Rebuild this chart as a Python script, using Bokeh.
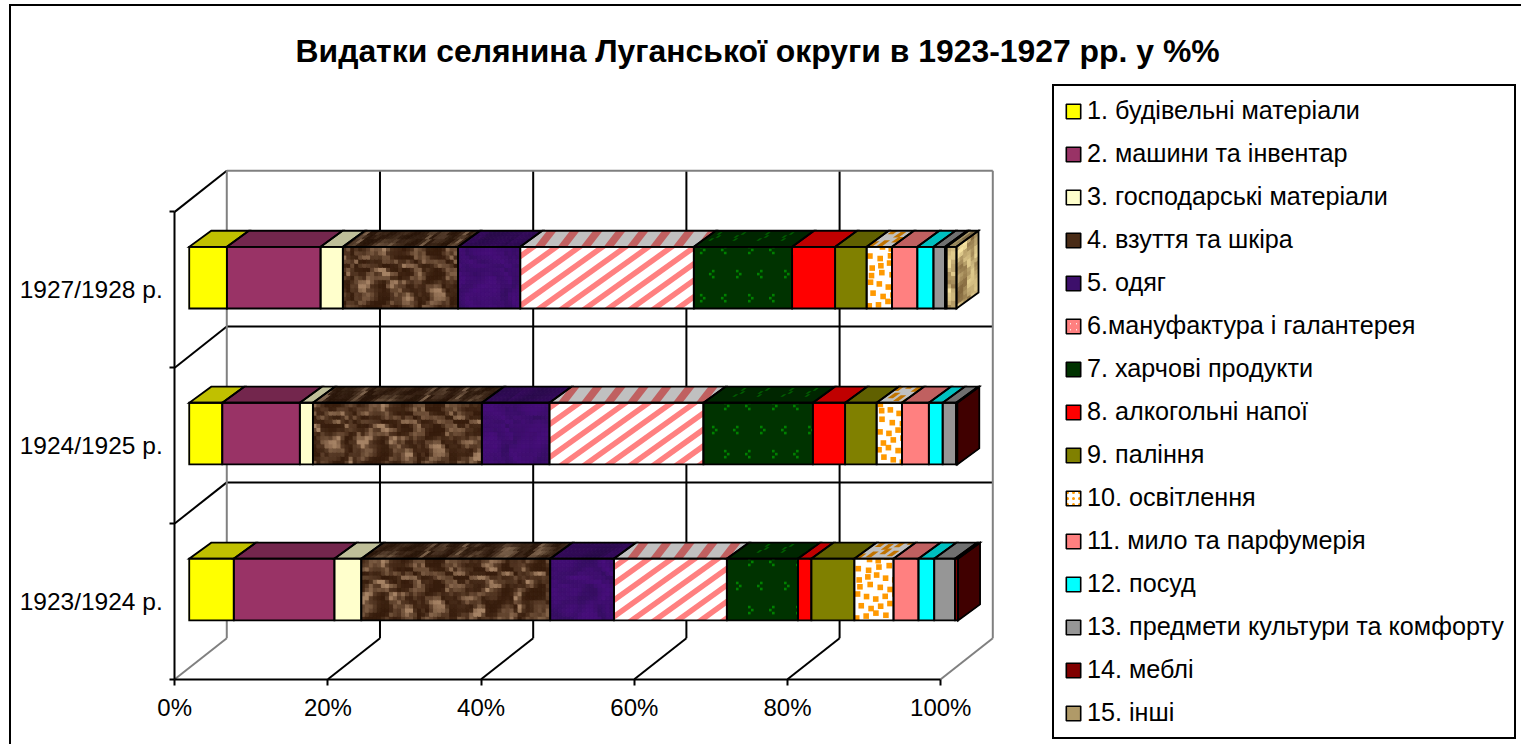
from bokeh.plotting import figure
from bokeh.embed import file_html
from bokeh.resources import INLINE
from bokeh.models import (Range1d, LinearAxis, FixedTicker, Legend, LegendItem,
                          ColumnDataSource, Title)
import math

# ---------- data ----------
title = "Видатки селянина Луганської округи в 1923-1927 рр. у %%"
categories = ["1923/1924 р.", "1924/1925 р.", "1927/1928 р."]
series_names = ["1. будівельні матеріали", "2. машини та інвентар", "3. господарські матеріали",
                "4. взуття та шкіра", "5. одяг", "6.мануфактура і галантерея", "7. харчові продукти",
                "8. алкогольні напої", "9. паління", "10. освітлення", "11. мило та парфумерія",
                "12. посуд", "13. предмети культури та комфорту", "14. меблі", "15. інші"]
values_1923 = [5.8, 13.1, 3.5, 24.6, 8.3, 14.7, 9.25, 1.75, 5.6, 5.1, 3.25, 2.05, 2.7, 0.4, 0.0]
values_1924 = [4.3, 10.1, 1.7, 22.0, 8.8, 20.05, 14.25, 4.2, 4.1, 3.3, 3.5, 1.8, 1.75, 0.15, 0.0]
values_1927 = [4.9, 12.2, 2.9, 15.0, 8.1, 22.6, 12.8, 5.6, 4.1, 3.3, 3.3, 2.1, 1.5, 0.2, 1.3]
x_ticks = [0, 20, 40, 60, 80, 100]
x_tick_labels = ["0%", "20%", "40%", "60%", "80%", "100%"]
rows = [values_1923, values_1924, values_1927]

# series appearance: (kind, front colour, top colour)
looks = [("s", "#FFFF00", "#C0C000"), ("s", "#993366", "#73264D"), ("s", "#FFFFCC", "#BFBF99"),
         ("brown", "", ""), ("purple", "", ""), ("stripe", "", ""), ("green", "", ""),
         ("s", "#FF0000", "#C00000"), ("s", "#808000", "#606000"), ("orange", "", ""),
         ("s", "#FF8080", "#C06060"), ("s", "#00FFFF", "#00C0C0"), ("s", "#969696", "#707070"),
         ("s", "#800000", "#600000"), ("tan", "", "")]
legend_colors = ["#FFFF00", "#993366", "#FFFFCC", "#4a2c17", "#3d0f6b", "#FFFFFF", "#003300", "#FF0000",
                 "#808000", "#FFFFFF", "#FF8080", "#00FFFF", "#969696", "#800000", "#b09a68"]
legend_hatch = {5: ("right_diagonal_line", "#FF8080"), 9: ("dot", "#FF9900")}

# ---------- geometry (pixels per data unit) ----------
PX, PY = 7.65, 155.33
FONT = "Liberation Sans"
ORG_X, ORG_Y = 11, 6          # page position of the figure's content (inside its left/top rule)
TOP = 80
ZX, ZY = 174, 677             # where the axes' zero falls, in the figure's layout
p = figure(width=1521 - ORG_X, height=744 - ORG_Y, output_backend="svg", toolbar_location=None,
           x_range=Range1d(-(ZX - ORG_X) / PX, (1521 - ZX) / PX), y_range=Range1d(-(744 - ZY) / PY, (ZY - TOP) / PY),
           x_axis_type=None, y_axis_type=None,
           min_border_left=0, min_border_right=0, min_border_top=TOP - ORG_Y, min_border_bottom=0,
           outline_line_color=None, background_fill_color="white", border_fill_color="white")
p.grid.visible = False
p.styles = {"position": "absolute", "left": "9px", "top": "4px", "border-left": "2px solid black",
            "border-top": "2px solid black", "box-sizing": "content-box"}

t = Title(text=title, text_font=FONT, text_font_size="31.9px", text_font_style="bold", text_color="black",
          align="left", offset=284, standoff=24)
p.add_layout(t, "above")

xa = LinearAxis(ticker=FixedTicker(ticks=x_ticks), bounds=(0, 100), fixed_location=0,
                major_label_overrides={a: b for a, b in zip(x_ticks, x_tick_labels)},
                major_label_text_font=FONT, major_label_text_font_size="24px", major_label_text_color="black",
                major_label_text_font_style="normal", major_label_standoff=9,
                axis_line_color="black", axis_line_width=2, major_tick_line_color="black",
                major_tick_line_width=2, major_tick_in=0, major_tick_out=6, minor_tick_line_color=None)
p.add_layout(xa, "below")
ya = LinearAxis(ticker=FixedTicker(ticks=[0.5, 1.5, 2.5], minor_ticks=[0, 1, 2, 3]), bounds=(0, 3), fixed_location=0,
                major_label_overrides={0.5 + i: c for i, c in enumerate(categories)},
                major_label_text_font=FONT, major_label_text_font_size="24.5px", major_label_text_color="black",
                major_label_text_font_style="normal", major_label_standoff=7,
                major_label_text_align="right",
                axis_line_color="black", axis_line_width=2, major_tick_line_color=None,
                major_tick_in=0, major_tick_out=0, minor_tick_line_color="black",
                minor_tick_line_width=2, minor_tick_in=0, minor_tick_out=5)
p.add_layout(ya, "left")

# walls and grid
DX, DY = 52 / PX, 41 / PY
GRAY, BLACK = "#808080", "black"
inner = x_ticks[1:-1]
p.segment(x0=[v + DX for v in inner], x1=[v + DX for v in inner], y0=[DY] * 4, y1=[3 + DY] * 4, color=BLACK, line_width=2)
p.segment(x0=inner, x1=[v + DX for v in inner], y0=[0] * 4, y1=[DY] * 4, color=BLACK, line_width=2)
p.segment(x0=[DX] * 2, x1=[100 + DX] * 2, y0=[1 + DY, 2 + DY], y1=[1 + DY, 2 + DY], color=BLACK, line_width=2)
p.segment(x0=[0] * 3, x1=[DX] * 3, y0=[1, 2, 3], y1=[1 + DY, 2 + DY, 3 + DY], color=BLACK, line_width=2)
p.segment(x0=[DX, DX, 100 + DX, 0, 100], x1=[DX, 100 + DX, 100 + DX, DX, 100 + DX],
          y0=[DY, 3 + DY, DY, 0, 0], y1=[3 + DY, 3 + DY, 3 + DY, DY, DY], color=GRAY, line_width=2)


# ---------- texture helpers ----------
def noise(u, v, seed):
    uu = u + 14 * math.sin(v * 0.11 + seed) + 9 * math.sin(v * 0.23 + seed * 2.1)
    vv = v + 12 * math.sin(u * 0.07 + seed * 1.4) + 7 * math.sin(u * 0.19 + seed * 0.6)
    s = 0.0
    for i, (a, b, c) in enumerate([(.17, .05, 1.0), (.06, .19, .8), (.31, .13, .6), (.11, .37, .6),
                                   (.53, .29, .3), (.23, .59, .3)]):
        s += c * math.sin(a * uu + b * vv + seed * (i + 1.7))
    return max(0.0, min(1.0, 0.5 + s / 5.0))


def mix(c1, c2, q):
    q = max(0.0, min(1.0, q))
    return tuple(int(a + (b - a) * q) for a, b in zip(c1, c2))


def hexc(c, k=1.0):
    return "#%02x%02x%02x" % tuple(int(max(0, min(255, x * k))) for x in c)


def clip(poly, W, H):
    def run(pts, inside, cross):
        out = []
        for i, a in enumerate(pts):
            b = pts[(i + 1) % len(pts)]
            if inside(a):
                out.append(a)
                if not inside(b):
                    out.append(cross(a, b))
            elif inside(b):
                out.append(cross(a, b))
        return out

    def xcut(x0):
        return lambda a, b: (x0, a[1] + (b[1] - a[1]) * (x0 - a[0]) / (b[0] - a[0]))

    def ycut(y0):
        return lambda a, b: (a[0] + (b[0] - a[0]) * (y0 - a[1]) / (b[1] - a[1]), y0)

    for ins, cr in [(lambda a: a[0] >= 0, xcut(0)), (lambda a: a[0] <= W, xcut(W)),
                    (lambda a: a[1] >= 0, ycut(0)), (lambda a: a[1] <= H, ycut(H))]:
        poly = run(poly, ins, cr) if poly else poly
    return poly


base = dict(xs=[], ys=[], c=[])
detail = dict(xs=[], ys=[], c=[])
outl = dict(xs=[], ys=[])


def put(store, face, poly, color):
    (ox, oy), (ux, uy), (vx, vy) = face
    store["xs"].append([ox + a * ux + b * vx for a, b in poly])
    store["ys"].append([oy + a * uy + b * vy for a, b in poly])
    store["c"].append(color)


def draw_face(kind, face, W, H, shade, solid, phase_u, phase_v):
    rect = [(0, 0), (W, 0), (W, H), (0, H)]
    (ox, oy), (ux, uy), (vx, vy) = face
    outl["xs"].append([ox + a * ux + b * vx for a, b in rect])
    outl["ys"].append([oy + a * uy + b * vy for a, b in rect])
    if kind == "s":
        put(base, face, rect, solid)
    elif kind in ("brown", "purple", "tan"):
        cs = 4.0
        nu = max(1, int(round(W / cs)))
        nv = max(1, int(round(H / cs)))
        for i in range(nu):
            for j in range(nv):
                a0, a1 = W * i / nu, W * (i + 1) / nu
                b0, b1 = H * j / nv, H * (j + 1) / nv
                u, vv = a0 + phase_u, b0 + phase_v
                if kind == "brown":
                    q = noise(u, vv, 1.3) ** 2.4
                    col = mix((54, 28, 12), (165, 130, 100), q * 1.2)
                elif kind == "purple":
                    q = noise(u * 0.7, vv * 0.7, 2.9)
                    col = mix((54, 14, 98), (72, 14, 124), q)
                else:
                    q = noise(u * 1.3, vv * 0.7, 4.1)
                    col = mix((128, 100, 58), (246, 226, 160), q)
                put(base, face, [(a0, b0), (a1, b0), (a1, b1), (a0, b1)], hexc(col, shade))
    elif kind == "stripe":
        put(base, face, rect, "#FFFFFF" if shade == 1 else "#C0C0C0")
        period, w = 23.0, 9.5
        tilt = 1.4 if shade == 1 else -0.6
        s = -(phase_u % period) - period * 6
        while s < W + period * 6:
            band = [(s, 0), (s + w, 0), (s + w + H * tilt, H), (s + H * tilt, H)]
            cp = clip(band, W, H)
            if len(cp) >= 3:
                put(detail, face, cp, "#FF8080" if shade == 1 else "#C06060")
            s += period
    elif kind == "green":
        put(base, face, rect, "#003300" if shade == 1 else "#002600")
        col = "#008000" if shade == 1 else "#006000"
        for gi in range(-2, int(W // 24) + 3):
            for gj in range(-1, int(H // 24) + 3):
                cu = gi * 24 + 6 - (phase_u % 24) + (12 if gj % 2 else 0)
                cv = gj * 24 + 6
                sign = 1 if (gi + gj) % 2 else -1
                for du, dv in [(0, 0), (sign * 3, 3), (0, 6)]:
                    sq = [(cu + du, cv + dv), (cu + du + 2.6, cv + dv), (cu + du + 2.6, cv + dv + 2.6), (cu + du, cv + dv + 2.6)]
                    cp = clip(sq, W, H)
                    if len(cp) >= 3:
                        put(detail, face, cp, col)
    elif kind == "orange":
        put(base, face, rect, "#FFFFFF" if shade == 1 else "#C0C0C0")
        col = "#FF9900" if shade == 1 else "#C07300"
        for gi in range(-1, int(W // 9.5) + 2):
            for gj in range(-1, int(H // 9.5) + 2):
                ju = 2.5 * math.sin(gi * 12.9 + gj * 78.2 + phase_u)
                jv = 2.5 * math.sin(gi * 39.3 + gj * 11.1 + phase_u)
                cu, cv = gi * 9.5 + 2 + ju, gj * 9.5 + 2 + jv
                sq = [(cu, cv), (cu + 5.6, cv), (cu + 5.6, cv + 5.6), (cu, cv + 5.6)]
                cp = clip(sq, W, H)
                if len(cp) >= 3:
                    put(detail, face, cp, col)


# ---------- bars ----------
BX0, K = (189.5 - 175) / PX, 767 / 765
BAR_H, TOP_D, SIDE_D = 61.5, 16.0, 22.0
centers = [0.576, 1.577, 2.578]
for row, cy in zip(rows, centers):
    y0 = cy - BAR_H / PY / 2
    cum = 0.0
    last = max(i for i, v in enumerate(row) if v > 0)
    for i, v in enumerate(row):
        if v <= 0:
            continue
        kind, cf, ct = looks[i]
        x0 = BX0 + cum * K
        W = v * K * PX
        draw_face(kind, ((x0, y0), (1 / PX, 0), (0, 1 / PY)), W, BAR_H, 1, cf, cum * 7.67, 0)
        draw_face(kind, ((x0, y0 + BAR_H / PY), (1 / PX, 0), (SIDE_D / TOP_D / PX, 1 / PY)), W, TOP_D,
                  0.75, ct, cum * 7.67, BAR_H)
        if i == last:
            side = "#400000" if kind == "s" else ""
            draw_face(kind, ((x0 + W / PX, y0), (1 / PX, TOP_D / SIDE_D / PY), (0, 1 / PY)), SIDE_D, BAR_H,
                      1, side, 0, 30)
        cum += v

p.patches("xs", "ys", fill_color="c", line_color="c", line_width=1, source=ColumnDataSource(base))
p.patches("xs", "ys", fill_color="c", line_color=None, source=ColumnDataSource(detail))
p.patches("xs", "ys", fill_color=None, line_color="black", line_width=1.8, line_join="miter",
          source=ColumnDataSource(outl))

# ---------- legend ----------
nan = float("nan")
items = []
for i, (name, col) in enumerate(zip(series_names, legend_colors)):
    kw = {}
    if i in legend_hatch:
        kw = dict(hatch_pattern=legend_hatch[i][0], hatch_color=legend_hatch[i][1], hatch_scale=6, hatch_weight=3)
    r = p.quad(left=[nan], right=[nan], top=[nan], bottom=[nan], fill_color=col, line_color="black",
               line_width=1.6, **kw)
    items.append(LegendItem(label=name, renderers=[r]))
leg = Legend(items=items, location=(1052 - ORG_X, 744 - 737), orientation="vertical",
             label_text_font=FONT, label_text_font_size="25.2px", label_text_color="black",
             glyph_width=18, glyph_height=18, label_standoff=5, label_height=20, spacing=14,
             padding=10, margin=0, border_line_color="black", border_line_width=2, border_line_alpha=1,
             background_fill_color="white", background_fill_alpha=1)
p.add_layout(leg, "center")

open("out.html", "w").write(file_html(p, INLINE))
